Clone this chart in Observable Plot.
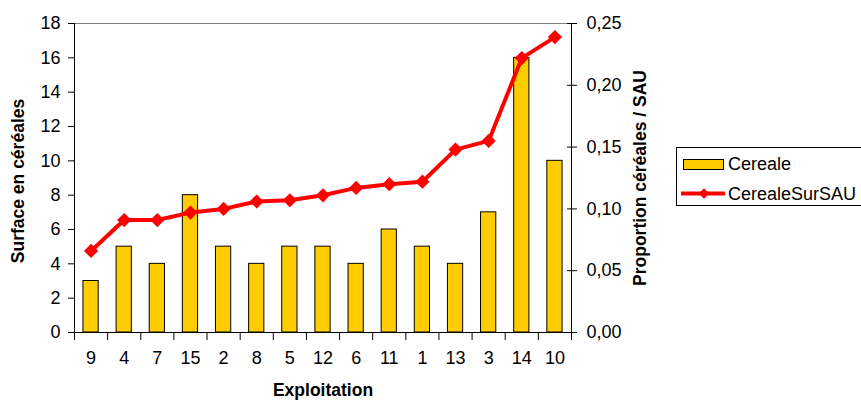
<!DOCTYPE html>
<html><head><meta charset="utf-8">
<script src="https://cdn.jsdelivr.net/npm/d3@7"></script>
<script src="https://cdn.jsdelivr.net/npm/@observablehq/plot@0.6"></script>
<style>
body{margin:0;background:#fff;overflow:hidden;font-family:"Liberation Sans",Arial,sans-serif}
#wrap{position:relative;width:861px;height:401px;overflow:hidden}
#legend{position:absolute;left:676px;top:147px;width:220px;height:59px;border:1px solid #000;background:#fff;box-sizing:border-box}
</style></head><body><div id="wrap"><div id="chart"></div><div id="legend"></div></div>
<script>
const exploitations = ["9","4","7","15","2","8","5","12","6","11","1","13","3","14","10"];
const cereale = [3,5,4,8,5,4,5,5,4,6,5,4,7,16,10];
const cerealeSurSAU = [0.066,0.091,0.091,0.097,0.100,0.106,0.107,0.111,0.117,0.120,0.122,0.148,0.155,0.222,0.239];
const leftTicks = [0,2,4,6,8,10,12,14,16,18];
const rightTicks = [0,0.05,0.10,0.15,0.20,0.25];
const leftMax = 18, rightMax = 0.25;
const k = leftMax / rightMax;
const seriesNames = ["Cereale", "CerealeSurSAU"];
const data = exploitations.map((e, i) => ({e, i, c: cereale[i], p: cerealeSurSAU[i]}));
const FS = 18;

const chart = Plot.plot({
  width: 861, height: 401,
  marginLeft: 74, marginRight: 290, marginTop: 23, marginBottom: 69,
  style: {fontFamily: "Liberation Sans, Arial, sans-serif", fontSize: FS + "px", color: "#000", background: "#fff", overflow: "visible"},
  x: {domain: [0, 15], axis: null},
  y: {domain: [0, leftMax], axis: null},
  marks: [
    Plot.ruleY([leftMax], {stroke: "#808080", strokeWidth: 1}),
    Plot.rectY(data, {x1: d => d.i + 0.27, x2: d => d.i + 0.73, y1: 0, y2: "c", fill: "#FFCC00", stroke: "#000", strokeWidth: 1}),
    Plot.axisY({anchor: "left", label: null, ticks: leftTicks, tickSize: 6, tickPadding: 8, fontSize: FS, tickFormat: d => String(d), stroke: "#000"}),
    Plot.axisY({anchor: "right", label: null, ticks: rightTicks.map(v => v * k), tickSize: 5, tickPadding: 10, fontSize: FS,
      tickFormat: v => (v / k).toFixed(2).replace(".", ","), stroke: "#000"}),
    Plot.axisY({anchor: "right", label: null, ticks: rightTicks.map(v => v * k), tickSize: -5, tickFormat: () => "", stroke: "#000"}),
    Plot.axisX({label: null, ticks: d3.range(16), tickSize: 8, tickFormat: () => "", stroke: "#000"}),
    Plot.axisX({label: null, ticks: exploitations.map((e, i) => i + 0.5), tickSize: 0, tickPadding: 19, fontSize: FS,
      tickFormat: v => exploitations[Math.floor(v)]}),
    Plot.ruleX([0, 15], {stroke: "#000"}),
    Plot.ruleY([0], {stroke: "#000"}),
    Plot.line(data, {x: d => d.i + 0.5, y: d => d.p * k, stroke: "#FF0000", strokeWidth: 4}),
    Plot.dot(data, {x: d => d.i + 0.5, y: d => d.p * k, symbol: "diamond2", r: 6.4, fill: "#FF0000", stroke: "none"}),
    Plot.text(["Surface en céréales"], {frameAnchor: "left", dx: -56, dy: 3, rotate: -90, textAnchor: "middle", fontWeight: "bold", fontSize: 17.5}),
    Plot.text(["Proportion céréales / SAU"], {frameAnchor: "right", dx: 69, dy: 0, rotate: -90, textAnchor: "middle", fontWeight: "bold", fontSize: 17.5}),
    Plot.text(["Exploitation"], {frameAnchor: "bottom", dy: 63, textAnchor: "middle", fontWeight: "bold", fontSize: 17.5})
  ]
});
document.getElementById("chart").appendChild(chart);

const lg = d3.select("#legend").append("svg").attr("width", 220).attr("height", 59)
  .style("font-family", "Liberation Sans, Arial, sans-serif").style("font-size", FS + "px");
lg.append("rect").attr("x", 6.5).attr("y", 11.5).attr("width", 40).attr("height", 10)
  .attr("fill", "#FFCC00").attr("stroke", "#000");
lg.append("text").attr("x", 51).attr("y", 16).attr("dy", "0.35em").text(seriesNames[0]);
lg.append("line").attr("x1", 4).attr("x2", 48).attr("y1", 45.5).attr("y2", 45.5).attr("stroke", "#FF0000").attr("stroke-width", 4);
lg.append("path").attr("d", d3.symbol(d3.symbolDiamond2, 2 * 36)()).attr("transform", "translate(27,45.5)").attr("fill", "#FF0000");
lg.append("text").attr("x", 51).attr("y", 46).attr("dy", "0.35em").text(seriesNames[1]);
</script></body></html>
